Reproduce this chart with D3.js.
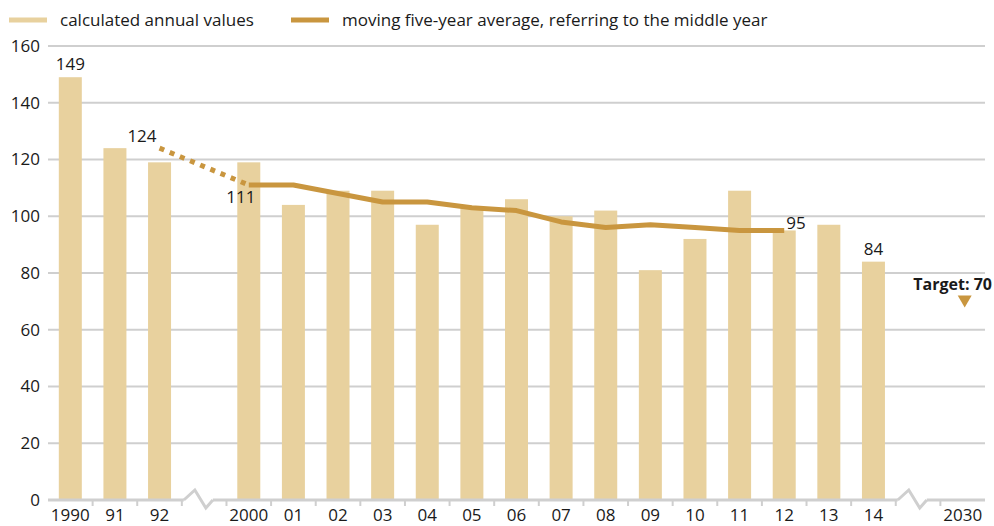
<!DOCTYPE html>
<html>
<head>
<meta charset="utf-8">
<script src="https://cdn.jsdelivr.net/npm/d3@7"></script>
<style>
  body { margin: 0; background: #fff; }
  svg { display: block; font-family: "Open Sans", "Noto Sans", sans-serif; }
</style>
</head>
<body>
<svg id="chart"></svg>
<script>
// slots along the x axis, "gap1"/"gap2" are the axis breaks
var slots = ["1990", "91", "92", "gap1", "2000", "01", "02", "03", "04", "05", "06", "07",
	"08", "09", "10", "11", "12", "13", "14", "gap2", "2030"];
var years = ["1990", "91", "92", "2000", "01", "02", "03", "04", "05", "06", "07",
	"08", "09", "10", "11", "12", "13", "14"];
var annualValues = [149, 124, 119, 119, 104, 109, 109, 97, 103, 106, 100, 102, 81, 92, 109, 95, 97, 84];
var avgYears = ["2000", "01", "02", "03", "04", "05", "06", "07", "08", "09", "10", "11", "12"];
var avgValues = [111, 111, 108, 105, 105, 103, 102, 98, 96, 97, 96, 95, 95];
var bridgeYears = ["92", "2000"];
var bridgeValues = [124, 111];
var yTicks = [0, 20, 40, 60, 80, 100, 120, 140, 160];
var target = { year: "2030", value: 70 };

var width = 994,
	height = 526,
	mLeft = 48,
	mRight = 985,
	mTop = 46,
	mBottom = 500;

var barColor = "#e8d19e",
	lineColor = "#c9963f",
	gridColor = "#cfcfcf",
	fs = 17;

var svg = d3.select("#chart")
	.attr("width", width)
	.attr("height", height);

var x = d3.scaleBand()
	.domain(slots)
	.range([mLeft, mRight])
	.paddingInner(0)
	.paddingOuter(0);

var y = d3.scaleLinear()
	.domain([0, 160])
	.range([mBottom, mTop]);

var cx = function(k) { return x(k) + x.bandwidth() / 2; };

/* ------- GRID + Y AXIS -------*/
svg.append("g").selectAll("line")
	.data(yTicks.filter(function(d) { return d > 0; }))
	.enter().append("line")
	.attr("x1", mLeft).attr("x2", mRight)
	.attr("y1", function(d) { return y(d); })
	.attr("y2", function(d) { return y(d); })
	.attr("stroke", gridColor)
	.attr("stroke-width", 2);

svg.append("g").selectAll("text")
	.data(yTicks)
	.enter().append("text")
	.attr("x", 40)
	.attr("y", function(d) { return y(d); })
	.attr("dy", "0.35em")
	.attr("text-anchor", "end")
	.attr("font-size", fs)
	.attr("fill", "#1a1a1a")
	.text(function(d) { return d; });

/* ------- BARS -------*/
var barW = 23;
svg.append("g").selectAll("rect")
	.data(years.map(function(k, i) { return { year: k, value: annualValues[i] }; }))
	.enter().append("rect")
	.attr("x", function(d) { return cx(d.year) - barW / 2; })
	.attr("y", function(d) { return y(d.value); })
	.attr("width", barW)
	.attr("height", function(d) { return y(0) - y(d.value); })
	.attr("fill", barColor);

/* ------- X AXIS WITH BREAKS -------*/
var axis = svg.append("g")
	.attr("stroke", gridColor)
	.attr("stroke-width", 3)
	.attr("fill", "none");

function breakPath(k) {
	var x0 = x(k);
	return "M" + (x0 + 2) + "," + mBottom +
		"L" + (x0 + 13) + "," + (mBottom - 10) +
		"L" + (x0 + 24) + "," + (mBottom + 8) +
		"L" + (x0 + 31) + "," + mBottom;
}
axis.append("path")
	.attr("d", "M" + mLeft + "," + mBottom + "H" + (x("gap1") + 2));
axis.append("path").attr("d", breakPath("gap1"));
axis.append("path")
	.attr("d", "M" + (x("gap1") + 31) + "," + mBottom + "H" + (x("gap2") + 2));
axis.append("path").attr("d", breakPath("gap2"));
axis.append("path")
	.attr("d", "M" + (x("gap2") + 31) + "," + mBottom + "H" + mRight);

// small ticks on slot boundaries
var tickPos = slots.slice(1).map(function(k) { return x(k); });
axis.selectAll("line.tick")
	.data(tickPos)
	.enter().append("line")
	.attr("class", "tick")
	.attr("x1", function(d) { return d; })
	.attr("x2", function(d) { return d; })
	.attr("y1", mBottom)
	.attr("y2", mBottom + 6)
	.attr("stroke-width", 2);

svg.append("g").selectAll("text")
	.data(slots.filter(function(k) { return k.indexOf("gap") < 0; }))
	.enter().append("text")
	.attr("x", function(d) { return cx(d); })
	.attr("y", 521)
	.attr("text-anchor", "middle")
	.attr("font-size", fs)
	.attr("fill", "#1a1a1a")
	.text(function(d) { return d; });

/* ------- MOVING AVERAGE -------*/
var line = d3.line()
	.x(function(d) { return cx(d[0]); })
	.y(function(d) { return y(d[1]); });

svg.append("path")
	.datum(bridgeYears.map(function(k, i) { return [k, bridgeValues[i]]; }))
	.attr("d", line)
	.attr("fill", "none")
	.attr("stroke", lineColor)
	.attr("stroke-width", 5)
	.attr("stroke-dasharray", "5,6");

svg.append("path")
	.datum(avgYears.map(function(k, i) { return [k, avgValues[i]]; }))
	.attr("d", line)
	.attr("fill", "none")
	.attr("stroke", lineColor)
	.attr("stroke-width", 5)
	.attr("stroke-linejoin", "round");

/* ------- VALUE LABELS -------*/
var labels = [
	{ text: annualValues[0], x: cx(years[0]), y: y(annualValues[0]) - 7, anchor: "middle" },
	{ text: bridgeValues[0], x: cx("92") - 3, y: y(bridgeValues[0]) - 6, anchor: "end" },
	{ text: avgValues[0], x: cx("2000") - 8, y: y(avgValues[0]) + 18, anchor: "middle" },
	{ text: avgValues[avgValues.length - 1], x: cx("12") + 2, y: y(avgValues[avgValues.length - 1]) - 1, anchor: "start" },
	{ text: annualValues[annualValues.length - 1], x: cx("14"), y: y(annualValues[annualValues.length - 1]) - 7, anchor: "middle" }
];
svg.append("g").selectAll("text")
	.data(labels)
	.enter().append("text")
	.attr("x", function(d) { return d.x; })
	.attr("y", function(d) { return d.y; })
	.attr("text-anchor", function(d) { return d.anchor; })
	.attr("font-size", fs)
	.attr("fill", "#1a1a1a")
	.text(function(d) { return d.text; });

/* ------- TARGET -------*/
var tx = cx(target.year) + 2,
	ty = y(target.value);
svg.append("path")
	.attr("d", "M" + (tx - 7) + "," + (ty - 6) + "L" + (tx + 7) + "," + (ty - 6) + "L" + tx + "," + (ty + 6) + "Z")
	.attr("fill", lineColor);
svg.append("text")
	.attr("x", 992)
	.attr("y", ty - 11)
	.attr("text-anchor", "end")
	.attr("font-size", 16)
	.attr("font-weight", "bold")
	.attr("fill", "#1a1a1a")
	.text("Target: " + target.value);

/* ------- LEGEND -------*/
var legend = [
	{ label: "calculated annual values", color: barColor, x: 9 },
	{ label: "moving five-year average, referring to the middle year", color: lineColor, x: 291 }
];
var lg = svg.append("g").selectAll("g")
	.data(legend)
	.enter().append("g")
	.attr("transform", function(d) { return "translate(" + d.x + ",20)"; });
lg.append("line")
	.attr("x1", 0).attr("x2", 38)
	.attr("stroke", function(d) { return d.color; })
	.attr("stroke-width", 5);
lg.append("text")
	.attr("x", 51)
	.attr("dy", "0.35em")
	.attr("font-size", fs)
	.attr("fill", "#1a1a1a")
	.text(function(d) { return d.label; });
</script>
</body>
</html>
